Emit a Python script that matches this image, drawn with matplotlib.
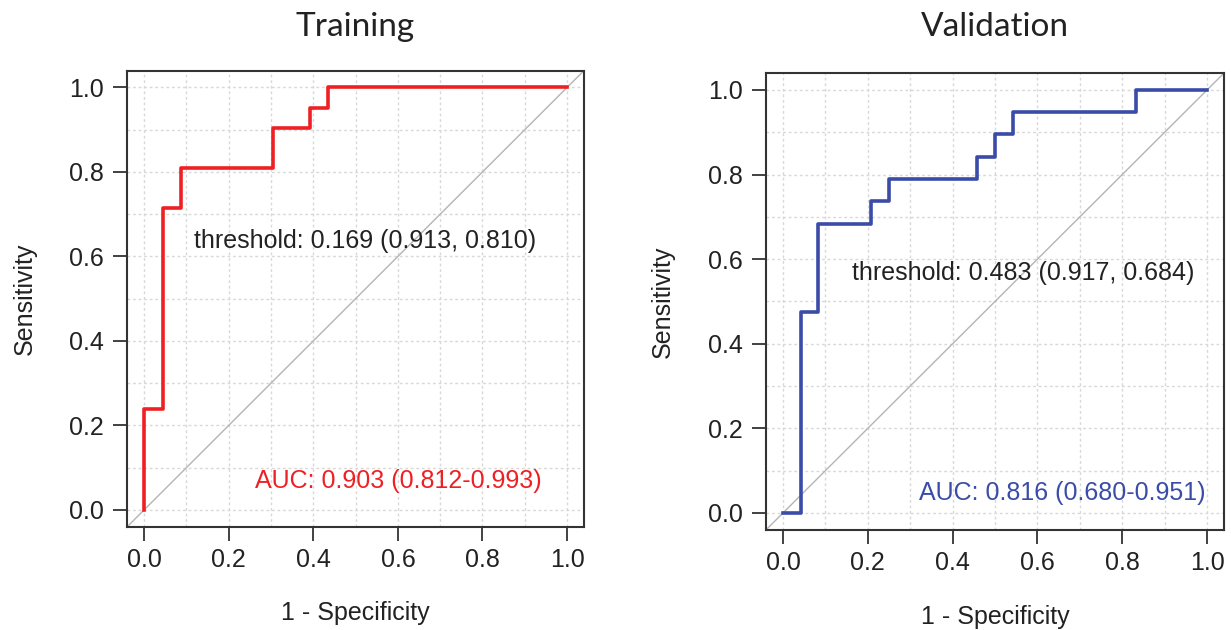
import matplotlib
matplotlib.use("Agg")
import matplotlib.pyplot as plt
import numpy as np

plt.rcParams['font.family'] = ['Liberation Sans', 'DejaVu Sans']

# ROC steps (1 - specificity, sensitivity)
train_fpr = [0.0, 0.0, 0.0435, 0.0435, 0.087, 0.087, 0.304, 0.304, 0.391, 0.391, 0.435, 0.435, 1.0]
train_tpr = [0.0, 0.238, 0.238, 0.714, 0.714, 0.810, 0.810, 0.905, 0.905, 0.952, 0.952, 1.0, 1.0]

valid_fpr = [0.0, 0.0417, 0.0417, 0.0833, 0.0833, 0.208, 0.208, 0.25, 0.25, 0.458, 0.458,
             0.5, 0.5, 0.542, 0.542, 0.833, 0.833, 1.0]
valid_tpr = [0.0, 0.0, 0.474, 0.474, 0.684, 0.684, 0.737, 0.737, 0.789, 0.789, 0.842,
             0.842, 0.895, 0.895, 0.947, 0.947, 1.0, 1.0]

titles = ["Training", "Validation"]
thres_txt = ["threshold: 0.169 (0.913, 0.810)", "threshold: 0.483 (0.917, 0.684)"]
auc_txt = ["AUC: 0.903 (0.812-0.993)", "AUC: 0.816 (0.680-0.951)"]
colors = ["#ee2024", "#3a4ca8"]
ticks = [0.0, 0.2, 0.4, 0.6, 0.8, 1.0]

FS = 18

fig = plt.figure(figsize=(12.31, 6.3), dpi=100)
ax1 = fig.add_axes([0.1034, 0.164, 0.371, 0.724])
ax2 = fig.add_axes([0.6223, 0.159, 0.372, 0.725])

curves = [(train_fpr, train_tpr), (valid_fpr, valid_tpr)]
thres_pos = [(0.118, 0.636), (0.162, 0.568)]
auc_pos = [(0.94, 0.069), (0.997, 0.048)]

for i, ax in enumerate([ax1, ax2]):
    ax.set_xlim(-0.04, 1.04)
    ax.set_ylim(-0.04, 1.04)
    # dotted grid every 0.1
    for g in np.arange(0, 1.01, 0.1):
        ax.axvline(g, color="#d8d8d8", lw=1, ls=(0, (2, 2)), zorder=0)
        ax.axhline(g, color="#d8d8d8", lw=1, ls=(0, (2, 2)), zorder=0)
    ax.axline((0, 0), (1, 1), color="#b4b4b4", lw=1, zorder=1)
    fx, fy = curves[i]
    ax.plot(fx, fy, color=colors[i], lw=2.6, zorder=3)

    ax.text(thres_pos[i][0], thres_pos[i][1], thres_txt[i], fontsize=FS,
            color="#222222", ha="left", va="center")
    ax.text(auc_pos[i][0], auc_pos[i][1], auc_txt[i], fontsize=FS,
            color=colors[i], ha="right", va="center")

    ax.set_xticks(ticks)
    ax.set_yticks(ticks)
    ax.set_xticklabels(["%.1f" % t for t in ticks])
    ax.set_yticklabels(["%.1f" % t for t in ticks])
    ax.tick_params(labelsize=FS, length=10, width=1.3, color="#333333",
                   labelcolor="#222222")
    ax.tick_params(axis="y", pad=7)
    ax.tick_params(axis="x", pad=5)
    for s in ax.spines.values():
        s.set_color("#333333")
        s.set_linewidth(1.5)

    ax.set_xlabel("1 - Specificity", fontsize=FS, color="#222222")
    ax.set_ylabel("Sensitivity", fontsize=FS, color="#222222")
    ax.xaxis.label.set_va("center")
    ax.yaxis.label.set_va("center")
    ax.xaxis.set_label_coords(0.5, -0.19)
    ax.yaxis.set_label_coords(-0.225, 0.5)

# titles placed above each panel
fig.text(0.2888, 1 - 36 / 630, titles[0], fontsize=24, family=["Lato", "DejaVu Sans"],
         color="#222222", ha="center", va="baseline")
fig.text(0.8083, 1 - 36 / 630, titles[1], fontsize=24, family=["Lato", "DejaVu Sans"],
         color="#222222", ha="center", va="baseline")

fig.savefig("out.png", dpi=100, facecolor="white")
